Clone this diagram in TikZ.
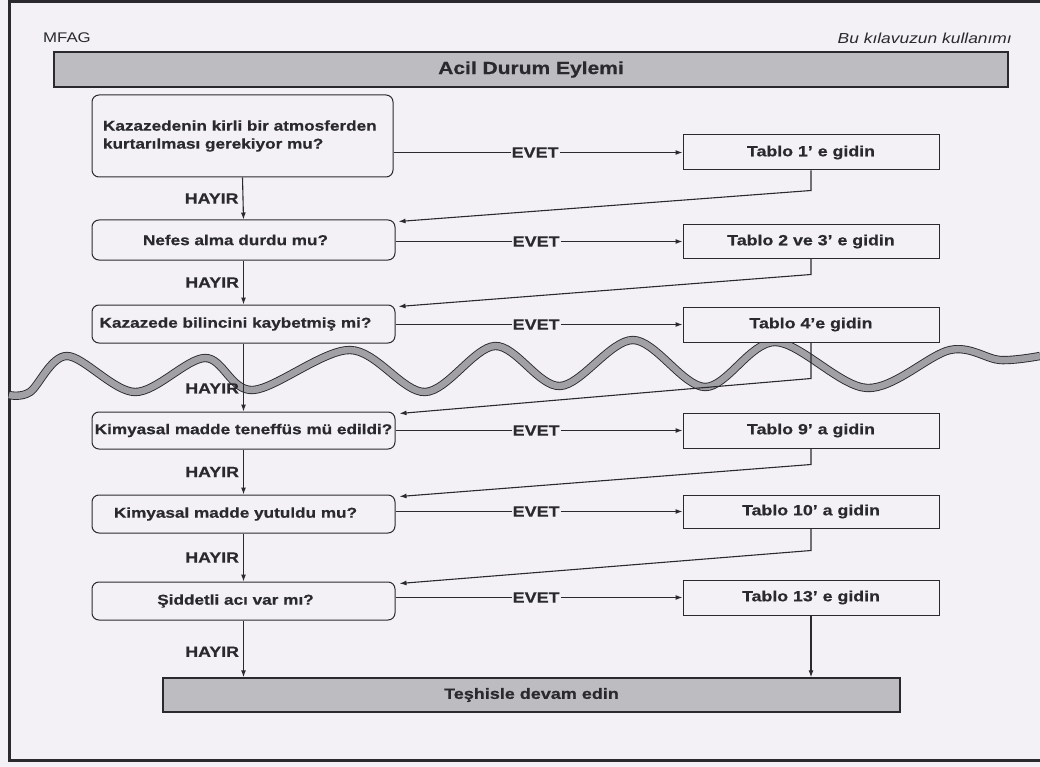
\documentclass[tikz,border=0pt]{standalone}
\usepackage{fontspec}
\setmainfont[FakeStretch=1.2,BoldFeatures={FakeBold=0.6}]{Liberation Sans}
\usetikzlibrary{arrows.meta,calc}
\definecolor{paper}{RGB}{243,241,246}
\definecolor{ink}{RGB}{42,42,46}
\definecolor{barfill}{RGB}{188,188,193}
\definecolor{bandfill}{RGB}{160,160,165}
\begin{document}
\begin{tikzpicture}[x=1pt,y=-1pt,
  question/.style={draw=ink,line width=1pt,rounded corners=7pt,fill=paper,
    minimum width=303pt,minimum height=38pt,inner sep=0pt,text=ink,
    font=\fontsize{14.3}{18}\selectfont\bfseries},
  target/.style={draw=ink,line width=1pt,fill=paper,minimum width=256pt,
    minimum height=35pt,inner sep=0pt,text=ink,
    font=\fontsize{14.8}{16}\selectfont\bfseries},
  banner/.style={draw=ink,line width=1.4pt,fill=barfill,inner sep=0pt,text=ink,
    font=\fontsize{15}{17}\selectfont\bfseries},
  arr/.style={draw=ink,line width=1.1pt,-{Latex[length=7pt,width=5pt]}},
  yes/.style={fill=paper,inner xsep=1pt,inner ysep=2pt,text=ink,
    font=\fontsize{15}{16}\selectfont\bfseries},
  no/.style={left,inner sep=4pt,text=ink,font=\fontsize{14.8}{16}\selectfont\bfseries}]

% page
\useasboundingbox (0,0) rectangle (1040,767);
\fill[paper] (0,0) rectangle (1040,767);
\draw[ink,line width=3pt] (1040,2) -- (9,2) -- (9,760) -- (1040,760);

% running heads
\node[anchor=west,text=ink,inner sep=0pt,font=\fontsize{14}{16}\selectfont] (head) at (43,38) {MFAG};
\node[anchor=east,text=ink,inner sep=0pt,font=\fontsize{14.5}{16}\selectfont\itshape] (guide) at (1012,38) {Bu kılavuzun kullanımı};

% title bar
\node[banner,minimum width=954pt,minimum height=35pt,font=\fontsize{17.5}{19}\selectfont\bfseries] (title) at (531,69.5) {Acil Durum Eylemi};

% the broken-page wave
\draw[ink,line width=0.9pt,double=bandfill,double distance=6.5pt]
  plot[smooth,tension=0.55] coordinates {(9,395) (30,392) (67,356) (135,392) (205,358) (253,390)
   (350,350) (425,392) (495,346) (560,386) (633,340) (705,387) (775,342) (867,388) (950,350) (1000,360) (1040,356)};

% questions
\node[question,minimum width=301pt,minimum height=82pt,text width=279pt,align=left] (q1) at (242.5,136)
  {Kazazedenin kirli bir atmosferden\\kurtarılması gerekiyor mu?};
\node[question,minimum height=40pt] (q2) at (243.5,240) {\hspace*{-16pt}Nefes alma durdu mu?};
\node[question] (q3) at (243.5,324) {\hspace*{-16pt}Kazazede bilincini kaybetmiş mi?};
\node[question,minimum height=37pt] (q4) at (243.5,430.5) {Kimyasal madde teneffüs mü edildi?};
\node[question] (q5) at (243.5,514) {\hspace*{-16pt}Kimyasal madde yutuldu mu?};
\node[question] (q6) at (243.5,601) {\hspace*{-16pt}Şiddetli acı var mı?};

% tables to consult
\node[target] (t1) at (811,152.5) {Tablo 1' e gidin};
\node[target,minimum height=33pt] (t2) at (811,241.5) {Tablo 2 ve 3' e gidin};
\node[target] (t3) at (811,324.5) {Tablo 4'e gidin};
\node[target] (t4) at (811,430.5) {Tablo 9' a gidin};
\node[target,minimum height=33pt] (t5) at (811,511.5) {Tablo 10' a gidin};
\node[target] (t6) at (811,597.5) {Tablo 13' e gidin};

% closing bar
\node[banner,minimum width=737pt,minimum height=34pt] (done) at (531.5,695) {Teşhisle devam edin};

% EVET branches
\foreach \q/\t in {q1/t1,q2/t2,q3/t3,q4/t4,q5/t5,q6/t6}
  \draw[arr] (\q.east |- \t.west) -- node[yes,pos=0.49]{EVET} (\t.west);

% returns from the tables to the next question
\draw[arr] (t1.south) -- ++(0,20) -- ($(q2.north east)+(3,2)$);
\draw[arr] (t2.south) -- ++(0,16) -- ($(q3.north east)+(3,2)$);
\draw[arr] (t3.south) -- ++(0,36) -- ($(q4.north east)+(4,2)$);
\draw[arr] (t4.south) -- ++(0,16) -- ($(q5.north east)+(4,2)$);
\draw[arr] (t5.south) -- ++(0,22) -- ($(q6.north east)+(4,2)$);
\draw[arr] (t6.south) -- (t6.south |- done.north);

% HAYIR branches
\draw[arr] (q1.south) -- node[no,midway]{HAYIR} (q2.north);
\draw[arr] (q2.south) -- node[no,midway]{HAYIR} (q3.north);
\draw[arr] (q3.south) -- node[no,pos=0.66]{HAYIR} (q4.north);
\draw[arr] (q4.south) -- node[no,midway]{HAYIR} (q5.north);
\draw[arr] (q5.south) -- node[no,midway]{HAYIR} (q6.north);
\draw[arr] (q6.south) -- node[no,pos=0.55]{HAYIR} (q6.south |- done.north);
\end{tikzpicture}
\end{document}
